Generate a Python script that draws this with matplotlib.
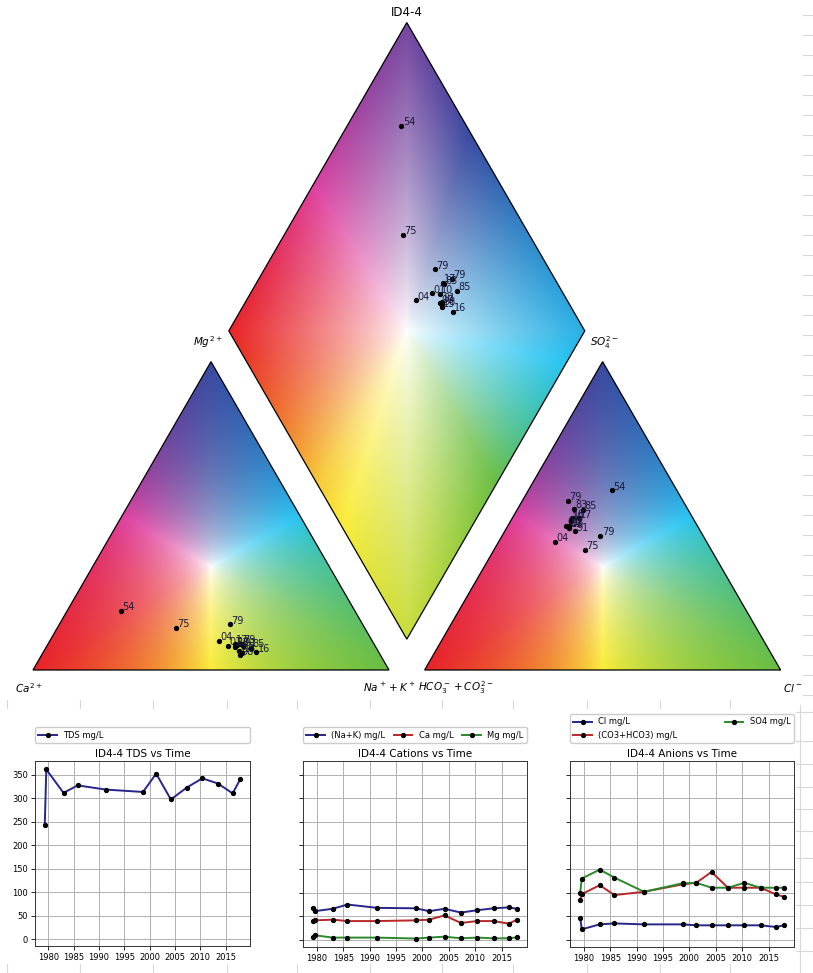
import numpy as np
import matplotlib
matplotlib.use("Agg")
import matplotlib.pyplot as plt
from matplotlib.patches import Polygon
from matplotlib.colors import rgb_to_hsv
from matplotlib.lines import Line2D

# ---------------- monitoring record, well ID4-4 (mg/L) ----------------
years = [1979.3, 1979.6, 1983.0, 1985.8, 1991.4, 1998.7, 2001.3, 2004.2,
         2007.3, 2010.4, 2013.5, 2016.4, 2017.9]
tds = [243, 361, 311, 327, 318, 313, 352, 297, 322, 342, 331, 310, 340]
na_k = [67, 61, 66, 75, 68, 67, 61, 66, 58, 63, 67, 69, 66]
ca = [40, 41.5, 43, 40, 40, 41.5, 43, 52, 36, 40, 40, 34.5, 43]
mg = [5.6, 10, 5, 5, 5, 3, 5, 7, 3.5, 5, 3.5, 3.5, 5.6]
cl = [47, 22.5, 33, 35, 33, 33, 31, 31, 31, 31, 31, 27.5, 31]
hco3 = [84.5, 97, 116, 95, 102, 117.6, 121, 144, 110.6, 110.6, 110.6, 96.5, 91.5]
so4 = [100, 130, 149, 132, 102, 120, 121, 110.6, 110.6, 121, 110.6, 110.6, 110.6]

# older analyses that only appear on the Piper plot
old_years = [1954.5, 1975.5]
old_na_k = [21, 38.4]
old_ca = [79, 53]
old_mg = [14, 8.3]
old_cl = [50, 45.4]
old_hco3 = [67, 108]
old_so4 = [168, 93.4]

# equivalent weights (mg per meq)
EW_CA, EW_MG, EW_NAK = 20.04, 12.15, 22.99
EW_HCO3, EW_SO4, EW_CL = 61.02, 48.03, 35.45

# ---------------- Piper coordinates ----------------
SQ = np.sqrt(3) / 2
OFF = 0.1

p_years = np.array(old_years + years)
m_ca = np.array(old_ca + ca) / EW_CA
m_mg = np.array(old_mg + mg) / EW_MG
m_na = np.array(old_na_k + na_k) / EW_NAK
m_hc = np.array(old_hco3 + hco3) / EW_HCO3
m_so = np.array(old_so4 + so4) / EW_SO4
m_cl = np.array(old_cl + cl) / EW_CL

tc = m_ca + m_mg + m_na
ta = m_hc + m_so + m_cl
f_ca, f_mg, f_na = m_ca / tc, m_mg / tc, m_na / tc
f_hc, f_so, f_cl = m_hc / ta, m_so / ta, m_cl / ta

cat_x = f_na + 0.5 * f_mg
cat_y = SQ * f_mg
an_x = 1 + OFF + f_cl + 0.5 * f_so
an_y = SQ * f_so
cm = f_ca + f_mg
sc = f_so + f_cl
Bx, By = 1 + OFF / 2, OFF * SQ
dia_x = Bx - 0.5 * cm + 0.5 * sc
dia_y = By + SQ * (cm + sc)
labels = ["%02d" % (int(y) % 100) for y in p_years]

# ---------------- background colour scheme ----------------
anchor_h = np.array([0, 60, 120, 180, 240, 300, 360]) / 360.0
anchor_rgb = np.array([[232, 36, 40], [250, 236, 58], [106, 190, 66],
                       [38, 196, 242], [56, 74, 160], [222, 64, 160],
                       [232, 36, 40]]) / 255.0
GAMMA = 0.8


def shade(h, s):
    rgb = np.stack([np.interp(h, anchor_h, anchor_rgb[:, k]) for k in range(3)], -1)
    s = np.clip(s, 0, 1)[..., None] ** GAMMA
    return 1 - s * (1 - rgb)


def tri_colors(r, g, b):
    st = np.clip(np.stack([r, g, b], -1), 0, None)
    mx = st.max(-1, keepdims=True)
    mx[mx == 0] = 1
    hsv = rgb_to_hsv(np.clip(st / mx, 0, 1))
    return shade(hsv[..., 0], hsv[..., 1])


N = 500
fig = plt.figure(figsize=(8.13, 9.73), dpi=100)
ax = fig.add_axes([0, 1 - 700 / 973, 1, 700 / 973])
ax.set_xlim(-33 / 356, 780 / 356)
ax.set_ylim(-30 / 356, 670 / 356)
ax.axis("off")

# cation triangle
gx, gy = np.meshgrid(np.linspace(0, 1, N), np.linspace(0, SQ, N))
gmg = gy / SQ
gna = gx - 0.5 * gmg
gca = 1 - gna - gmg
img = tri_colors(gca, gna, gmg)
tri_c = Polygon([[0, 0], [1, 0], [0.5, SQ]], closed=True, fc="none", ec="k", lw=0.9, zorder=3)
ax.add_patch(tri_c)
im = ax.imshow(img, origin="lower", extent=(0, 1, 0, SQ), interpolation="bilinear", zorder=1)
im.set_clip_path(tri_c)

# anion triangle
x0 = 1 + OFF
gx, gy = np.meshgrid(np.linspace(x0, x0 + 1, N), np.linspace(0, SQ, N))
gso = gy / SQ
gcl = gx - x0 - 0.5 * gso
ghc = 1 - gcl - gso
img = tri_colors(ghc, gcl, gso)
tri_a = Polygon([[x0, 0], [x0 + 1, 0], [x0 + 0.5, SQ]], closed=True, fc="none", ec="k", lw=0.9, zorder=3)
ax.add_patch(tri_a)
im = ax.imshow(img, origin="lower", extent=(x0, x0 + 1, 0, SQ), interpolation="bilinear", zorder=1)
im.set_clip_path(tri_a)

# diamond
gx, gy = np.meshgrid(np.linspace(Bx - 0.5, Bx + 0.5, N), np.linspace(By, By + 2 * SQ, N))
p = (gx - Bx) / 0.5
q = (gy - By) / SQ - 1
theta = np.degrees(np.arctan2(q, p)) % 360
hue = np.interp(theta, [0, 45, 90, 135, 180, 225, 270, 315, 360],
                [190, 228, 262, 296, 360, 410, 440, 480, 550]) % 360
img = shade(hue / 360.0, np.abs(p) + np.abs(q))
dia = Polygon([[Bx, By], [Bx + 0.5, By + SQ], [Bx, By + 2 * SQ], [Bx - 0.5, By + SQ]],
              closed=True, fc="none", ec="k", lw=0.9, zorder=3)
ax.add_patch(dia)
im = ax.imshow(img, origin="lower", extent=(Bx - 0.5, Bx + 0.5, By, By + 2 * SQ),
               interpolation="bilinear", zorder=1)
im.set_clip_path(dia)

# samples
for xs, ys in ((cat_x, cat_y), (an_x, an_y), (dia_x, dia_y)):
    ax.plot(xs, ys, "o", color="k", ms=2.8, zorder=5)
    for x, y, t in zip(xs, ys, labels):
        ax.annotate(t, (x, y), xytext=(1, -1), textcoords="offset points",
                    ha="left", va="bottom", fontsize=7, color="#1a1a3a", zorder=6)

lab_kw = dict(fontsize=7.5, color="k")
ax.text(-0.05, -0.05, r"$Ca^{2+}$", ha="left", va="center", **lab_kw)
ax.text(1.0, -0.05, r"$Na^+ + K^+$", ha="center", va="center", **lab_kw)
ax.text(1.082, -0.05, r"$HCO_3^- + CO_3^{2-}$", ha="left", va="center", **lab_kw)
ax.text(2.107, -0.05, r"$Cl^-$", ha="left", va="center", **lab_kw)
ax.text(0.531, 0.921, r"$Mg^{2+}$", ha="right", va="center", **lab_kw)
ax.text(1.565, 0.921, r"$SO_4^{2-}$", ha="left", va="center", **lab_kw)
ax.text(Bx, 1.848, "ID4-4", ha="center", va="center", fontsize=8.5, color="k")

# ---------------- time series panels ----------------
W, H = 813.0, 973.0


def panel(left, right, top, bottom, share=None):
    return fig.add_axes([left / W, 1 - bottom / H, (right - left) / W, (bottom - top) / H],
                        sharey=share)


ax1 = panel(35, 250, 761, 946)
ax2 = panel(303, 527, 761, 947, share=ax1)
ax3 = panel(570, 794, 761, 947, share=ax1)

BLUE, RED, GREEN = "#26268c", "#b8262a", "#2a8a2a"
mk = dict(marker="o", ms=2.8, mfc="k", mec="k", lw=1.4)

ax1.plot(years, tds, color=BLUE, label="TDS mg/L", **mk)
ax2.plot(years, na_k, color=BLUE, label="(Na+K) mg/L", **mk)
ax2.plot(years, ca, color=RED, label="Ca mg/L", **mk)
ax2.plot(years, mg, color=GREEN, label="Mg mg/L", **mk)
ax3.plot(years, cl, color=BLUE, label="Cl mg/L", **mk)
ax3.plot(years, hco3, color=RED, label="(CO3+HCO3) mg/L", **mk)
ax3.plot(years, so4, color=GREEN, label="SO4 mg/L", **mk)

titles = ["ID4-4 TDS vs Time", "ID4-4 Cations vs Time", "ID4-4 Anions vs Time"]
for a, t, nc in zip((ax1, ax2, ax3), titles, (1, 3, 2)):
    a.set_title(t, fontsize=7.5, pad=3)
    a.grid(True, color="#b0b0b0", lw=0.7)
    a.set_xticks([1980, 1985, 1990, 1995, 2000, 2005, 2010, 2015])
    a.tick_params(labelsize=6, length=3, width=0.6, pad=2)
    for s in a.spines.values():
        s.set_linewidth(0.7)
        s.set_color("#333333")
    a.legend(loc="lower left", bbox_to_anchor=(0, 1.097, 1, 0.05), mode="expand",
             ncol=nc, borderaxespad=0, fontsize=6, handlelength=2.2,
             frameon=True, edgecolor="#cccccc", framealpha=1)
ax1.set_yticks([0, 50, 100, 150, 200, 250, 300, 350])
ax2.tick_params(labelleft=False)
ax3.tick_params(labelleft=False)

# sheet cell borders around the pictures
gcol = "#d8d8d8"
for yy in np.arange(15, 700, 20):
    fig.add_artist(Line2D([803 / W, 1], [1 - yy / H] * 2, color=gcol, lw=0.8))
for yy in [712, 741, 764, 787, 809, 831, 858, 882, 905, 928, 951]:
    fig.add_artist(Line2D([796 / W, 1], [1 - yy / H] * 2, color=gcol, lw=0.8))
fig.add_artist(Line2D([800 / W] * 2, [0, 1 - 705 / H], color=gcol, lw=0.8))
for xx in [7, 80, 153, 227, 297, 370, 442, 513, 587, 660, 730]:
    fig.add_artist(Line2D([xx / W] * 2, [1 - 700 / H, 1 - 708 / H], color=gcol, lw=0.8))
    fig.add_artist(Line2D([xx / W] * 2, [0, 1 - 964 / H], color=gcol, lw=0.8))

fig.savefig("out.png", dpi=100)
